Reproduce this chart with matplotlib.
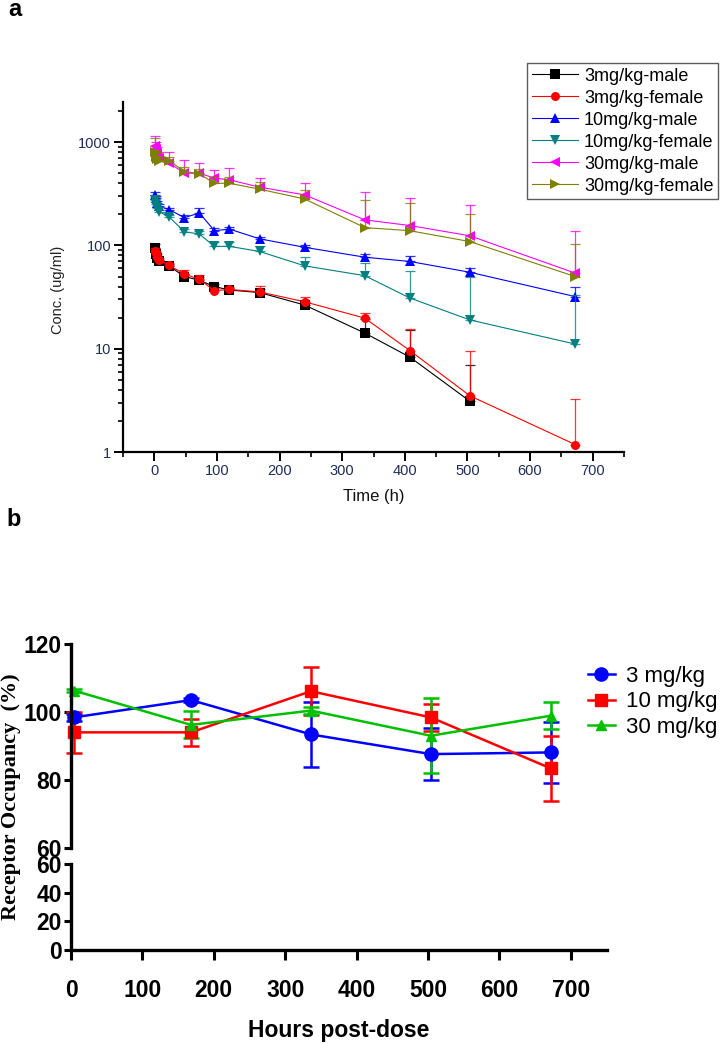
import numpy as np
import matplotlib
matplotlib.use("Agg")
import matplotlib.pyplot as plt
from matplotlib.lines import Line2D
from matplotlib.ticker import LogLocator, NullFormatter, FixedLocator

plt.rcParams['font.family'] = ['Liberation Sans', 'DejaVu Sans']

# ---- panel a: concentration-time data ----
nan = np.nan
times_pk = [0.5, 2, 4, 8, 24, 48, 72, 96, 120, 168, 240, 336, 408, 504, 672]
male_3 = [95, 82, 75, 70, 63, 50, 46, 40, 37, 35, 26.5, 14.2, 8.3, 3.1, nan]
male_3_err = [8, 5, 4, 3, 3, 3, 3, 2, 2, 3, 2, 5, 7, 3.8, nan]
female_3 = [88, 84, 78, 73, 64, 53, 47, 36.5, 37.5, 35.5, 28.5, 19.8, 9.6, 3.5, 1.18]
female_3_err = [6, 5, 4, 3, 3, 5, 5, 2, 2, 5, 3, 2.5, 6, 6.1, 2.06]
male_10 = [310, 285, 258, 240, 222, 186, 206, 139, 144, 116, 96, 77, 70, 55, 32]
male_10_err = [20, 15, 12, 10, 10, 10, 25, 8, 8, 6, 5, 5, 9, 6, 8]
female_10 = [277, 250, 231, 212, 188, 136, 129, 98, 98, 87.5, 63.5, 51, 31, 19, 11.1]
female_10_err = [15, 12, 10, 8, 8, 8, 10, 10, 10, 12, 14.5, 16.5, 26, 30, 22]
male_30 = [910, 860, 780, 700, 627, 502, 500, 449, 432, 367, 309, 177, 156, 124, 54]
male_30_err = [230, 150, 120, 100, 170, 175, 127, 90, 130, 88, 93, 156, 135, 120, 85]
female_30 = [800, 720, 690, 660, 660, 520, 494, 400, 400, 351, 282, 149, 139, 109, 50]
female_30_err = [300, 120, 100, 80, 60, 60, 60, 60, 60, 60, 60, 127, 121, 93, 54]

pk_labels = ['3mg/kg-male', '3mg/kg-female', '10mg/kg-male',
             '10mg/kg-female', '30mg/kg-male', '30mg/kg-female']
pk_colors = ['#000000', '#ff0000', '#0000ff', '#008080', '#ff00ff', '#808000']
pk_markers = ['s', 'o', '^', 'v', '<', '>']

# ---- panel b: receptor occupancy ----
ro_times = [4, 168, 336, 504, 672]
ro_3 = [98.5, 103.6, 93.5, 87.7, 88.2]
ro_3_err = [1, 0.5, 9.5, 7.6, 9]
ro_10 = [94.1, 94.1, 106.2, 98.5, 83.5]
ro_10_err = [6, 4, 7, 4, 9.5]
ro_30 = [106.4, 96.3, 100.5, 93.1, 99.0]
ro_30_err = [0.5, 4, 1, 11, 4]
ro_labels = ['3 mg/kg', '10 mg/kg', '30 mg/kg']
ro_colors = ['#0000ff', '#ff0000', '#00c000']
ro_markers = ['o', 's', '^']
ro_msize = [9.5, 8.5, 7.5]

W, H = 721, 1043
fig = plt.figure(figsize=(W / 100, H / 100), dpi=100)

# ================= panel a =================
tick_col = '#1f2d5c'
ax = fig.add_axes([123 / W, 1 - 452 / H, 501 / W, 350 / H])
pk_series = [(male_3, male_3_err), (female_3, female_3_err),
             (male_10, male_10_err), (female_10, female_10_err),
             (male_30, male_30_err), (female_30, female_30_err)]
handles = []
for (vals, errs), lab, col, mk in zip(pk_series, pk_labels, pk_colors, pk_markers):
    vals = np.array(vals, dtype=float)
    errs = np.array(errs, dtype=float)
    ax.errorbar(times_pk, vals, yerr=[np.zeros_like(errs), errs], fmt='none',
                ecolor=col, elinewidth=0.9, capsize=3.5, capthick=0.9, alpha=0.8)
    h, = ax.plot(times_pk, vals, color=col, lw=0.8, marker=mk, markersize=6.5,
                 markeredgewidth=0, label=lab)
    handles.append(h)

ax.set_yscale('log')
ax.set_xlim(-50, 750)
ax.set_ylim(1, 2450)
ax.spines['top'].set_visible(False)
ax.spines['right'].set_visible(False)
for s in ['left', 'bottom']:
    ax.spines[s].set_linewidth(1.6)
ax.set_xticks(range(0, 701, 100))
ax.xaxis.set_minor_locator(FixedLocator(np.arange(-50, 751, 100)))
ax.yaxis.set_major_locator(FixedLocator([1, 10, 100, 1000]))
ax.set_yticklabels(['1', '10', '100', '1000'])
ax.yaxis.set_minor_locator(LogLocator(base=10, subs=np.arange(2, 10), numticks=20))
ax.yaxis.set_minor_formatter(NullFormatter())
ax.tick_params(which='major', length=6.5, width=1.4, labelsize=10.5,
               labelcolor=tick_col, pad=2)
ax.tick_params(which='minor', length=3.5, width=1.2)
ax.set_xlabel('Time (h)', fontsize=12, color='#111111', labelpad=8)
fig.text(58 / W, 1 - 290 / H, 'Conc. (ug/ml)', rotation=90, ha='center',
         va='center', fontsize=10.5, color='#222222')

leg = fig.legend(handles=handles, loc='upper left',
                 bbox_to_anchor=(527 / W, 1 - 63 / H), fontsize=13,
                 frameon=True, fancybox=False, edgecolor='#333333',
                 labelspacing=0.28, handlelength=2.6, handletextpad=0.3,
                 borderpad=0.25, borderaxespad=0)
leg.get_frame().set_linewidth(1.0)

fig.text(8 / W, 1 - 10 / H, 'a', fontsize=17, fontweight='bold', va='center')
fig.text(6 / W, 1 - 519 / H, 'b', fontsize=17, fontweight='bold', va='center')

# ================= panel b (broken y axis) =================
x0 = 71
xr = 535.5
ax_top = fig.add_axes([x0 / W, 1 - 848.3 / H, xr / W, 204 / H])
ax_bot = fig.add_axes([x0 / W, 1 - 950 / H, xr / W, 86 / H], sharex=ax_top)

ro_series = [(ro_3, ro_3_err), (ro_10, ro_10_err), (ro_30, ro_30_err)]
ro_handles = []
for (vals, errs), lab, col, mk, ms in zip(ro_series, ro_labels, ro_colors,
                                         ro_markers, ro_msize):
    ax_top.errorbar(ro_times, vals, yerr=errs, color=col, lw=1.8,
                    marker=mk, markersize=ms, elinewidth=1.8, capsize=6,
                    capthick=1.8, clip_on=False)
    ro_handles.append(Line2D([], [], color=col, lw=1.8, marker=mk,
                             markersize=ms, label=lab))

ax_top.set_ylim(60, 120)
ax_bot.set_ylim(0, 60)
ax_top.set_xlim(0, 750)
ax_top.set_yticks([60, 80, 100, 120])
ax_bot.set_yticks([0, 20, 40, 60])
ax_bot.set_xticks(range(0, 701, 100))
for a in (ax_top, ax_bot):
    a.spines['top'].set_visible(False)
    a.spines['right'].set_visible(False)
    a.spines['left'].set_linewidth(2.4)
    a.spines['bottom'].set_linewidth(2.4)
    a.tick_params(length=5, width=2.2, labelsize=16.5, pad=1.5)
    for t in a.get_yticklabels() + a.get_xticklabels():
        t.set_fontweight('bold')
ax_top.spines['bottom'].set_visible(False)
ax_top.tick_params(axis='x', which='both', bottom=False, labelbottom=False)
ax_bot.tick_params(axis='x', length=7, pad=14)

ax_bot.set_xlabel('Hours post-dose', fontsize=16.5, fontweight='bold',
                  labelpad=12)
fig.text(11 / W, 1 - 797 / H, 'Receptor Occupancy  (%)', rotation=90,
         ha='center', va='center', fontsize=16, fontweight='bold',
         family=['Liberation Serif', 'DejaVu Serif'])

fig.legend(handles=ro_handles, loc='upper left',
           bbox_to_anchor=(588 / W, 1 - 666 / H), fontsize=16, frameon=False,
           labelspacing=0.2, handlelength=1.2, handletextpad=0.5,
           borderpad=0, borderaxespad=0)

fig.savefig('out.png', dpi=100)
